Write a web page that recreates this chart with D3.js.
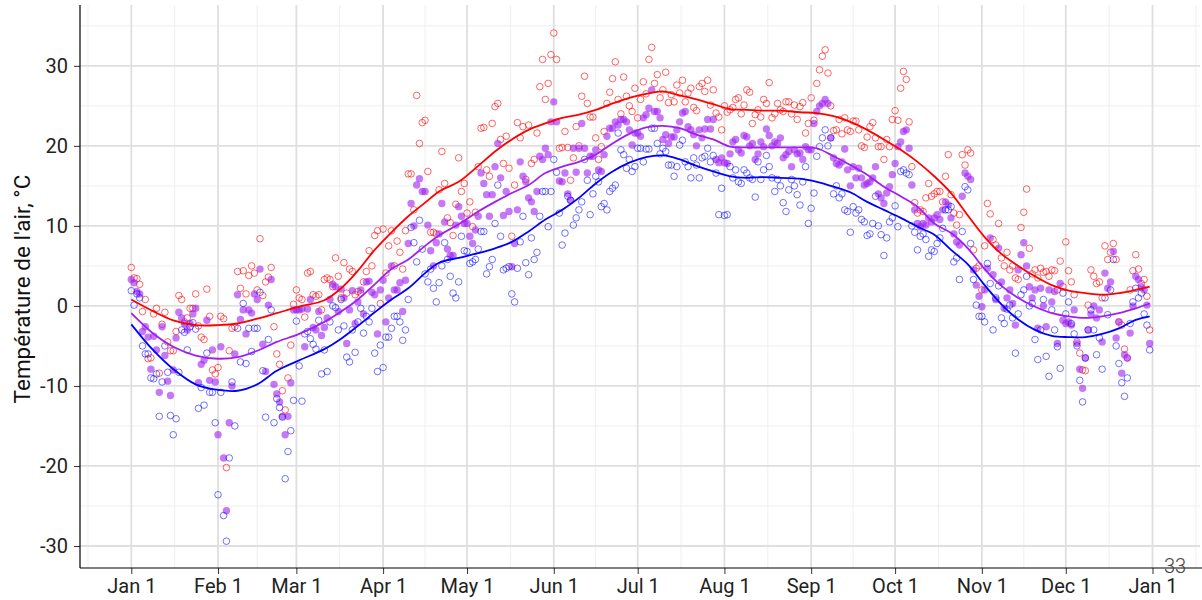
<!DOCTYPE html>
<meta charset="utf-8">
<script src="https://cdn.jsdelivr.net/npm/d3@7"></script>
<style>
body { margin: 0; background: #fff; font-family: Roboto, 'Open Sans', sans-serif; }
</style>
<svg width="1202" height="600"></svg>
<script>
// daily air temperature, one value per day of the year (rows = months)
var tmax = [
  4.8, 3.5, 3.4, 2.7, -0.7, 0.8, -6.6, -6.5, -1.0, -0.3, -8.4, -2.3, -0.8, -4.5, -5.6, -5.6, -3.2, 1.3, 0.8, -2.0, -1.5, -0.3, -0.3, 1.5, -2.5, -3.9, -4.2, 2.1, -1.3, -8.0, -8.5,
  -7.7, -1.3, -1.6, -20.2, -5.6, -2.8, -2.6, 4.3, 2.2, 4.4, 1.5, 3.8, 5.0, 4.1, 2.0, 8.4, 1.3, 3.0, 3.6, 4.8, -2.6, -6.0, -7.3, -10.6, -13.0, -9.0, -4.9, 0.2,
  2.0, 1.0, 0.8, -1.4, 4.1, 4.3, 1.4, 1.2, 1.4, -0.5, 3.3, 3.5, 3.3, 2.4, 6.0, 3.7, 1.0, 5.4, 1.6, 4.6, 4.3, 1.4, 1.8, 1.6, 3.0, 4.3, 6.9, 5.0, 8.8, 9.4, 0.3,
  9.6, 4.1, 7.5, 9.4, 5.0, 8.1, 6.7, 4.6, 9.4, 16.5, 16.5, 12.0, 26.3, 20.3, 22.9, 23.2, 16.8, 9.2, 9.2, 9.0, 14.5, 19.3, 15.3, 11.0, 10.4, 8.8, 12.7, 18.5, 14.3, 15.3,
  11.6, 13.0, 9.9, 11.7, 17.4, 22.2, 22.3, 17.0, 16.2, 22.8, 24.9, 25.3, 20.8, 17.8, 21.2, 17.2, 8.7, 15.1, 22.9, 21.0, 22.4, 15.8, 22.6, 17.8, 18.3, 21.6, 27.4, 30.8, 25.8, 27.8, 31.4,
  34.1, 30.8, 19.7, 19.8, 21.8, 19.8, 15.7, 18.5, 22.4, 20.0, 26.2, 28.7, 25.3, 23.6, 23.6, 21.0, 18.3, 19.9, 21.8, 25.3, 26.7, 28.4, 30.5, 25.8, 24.0, 28.6, 26.2, 25.0, 24.3, 27.2,
  23.5, 25.8, 28.0, 26.5, 30.8, 32.3, 27.8, 28.9, 26.0, 27.0, 29.2, 25.4, 26.4, 25.5, 27.6, 26.6, 28.2, 25.5, 26.6, 27.2, 24.8, 24.4, 27.4, 27.8, 26.8, 28.2, 25.1, 27.0, 24.1, 23.6, 22.0,
  25.0, 24.2, 24.5, 24.8, 25.8, 26.0, 24.0, 25.1, 27.0, 26.7, 22.8, 23.9, 24.5, 23.6, 25.8, 25.3, 27.9, 23.5, 24.0, 25.3, 24.5, 24.3, 25.5, 25.5, 24.0, 25.1, 23.3, 24.9, 25.4, 21.6, 22.8,
  26.0, 23.2, 27.8, 29.5, 31.2, 32.0, 29.1, 25.0, 21.9, 22.0, 23.3, 21.5, 23.5, 22.0, 21.8, 23.1, 23.1, 22.0, 20.0, 19.8, 21.1, 22.4, 22.9, 21.0, 19.9, 19.9, 18.3, 20.8, 19.9, 23.3,
  24.4, 23.2, 27.2, 29.3, 28.3, 23.0, 17.4, 12.9, 11.6, 12.0, 11.8, 13.5, 15.3, 13.7, 14.0, 14.3, 14.3, 13.0, 16.2, 18.9, 13.9, 11.6, 10.1, 11.4, 18.9, 17.6, 19.5, 19.1, 7.0, 4.7, 5.0,
  2.0, 7.5, 12.8, 11.5, 8.3, 7.6, 10.3, 6.0, 5.0, 6.7, 4.5, 5.0, 3.5, 3.3, 9.8, 11.7, 14.6, 7.2, 4.0, 4.5, 3.5, 4.7, 4.2, 4.3, 3.7, 4.5, 4.4, 2.0, 5.6, 2.4,
  8.0, 4.4, 3.0, 1.4, -4.5, -5.9, -8.0, -8.1, 0.1, 4.5, 3.7, 2.8, 3.0, 1.0, 7.5, 5.8, 6.7, 7.8, 5.8, -2.0, -2.4, -5.4, -6.5, 2.0, 4.4, 6.4, 4.6, 2.8, 3.3, 1.2, -3.0
];
var tmean = [
  3.3, 2.9, 1.8, 1.5, -3.2, -2.6, -3.9, -7.9, -3.8, -5.5, -10.8, -2.6, -6.2, -9.4, -11.2, -8.0, -4.0, -0.8, -1.5, -2.2, -3.0, -2.2, -1.0, -0.3, -9.6, -7.3, -6.8, -1.8, -9.3, -5.5, -9.5,
  -16.1, -5.1, -19.0, -25.6, -14.6, -10.0, -6.0, 1.4, -1.7, -0.5, -3.5, -0.5, -0.9, 1.5, 0.8, 4.6, -4.8, -8.2, 0.1, 3.3, -9.8, -11.0, -12.0, -13.8, -16.1, -13.8, -9.6, -0.5,
  -0.5, -0.5, -0.4, -5.1, -0.4, 0.8, -2.7, -3.0, -0.7, -3.7, -2.7, -1.5, 0.8, 2.7, 2.4, -0.7, 2.1, 1.0, -4.7, -0.5, 1.9, -2.2, 0.5, 2.0, -1.0, 3.0, 3.1, 1.7, 1.4, -3.5, 2.0,
  3.2, -2.0, 1.0, 5.0, 2.0, 2.0, 2.9, -0.7, 3.2, 7.8, 12.8, 10.0, 15.1, 15.9, 14.3, 14.3, 10.1, 6.9, 5.0, 7.9, 9.0, 12.8, 10.5, 7.1, 6.3, 6.3, 10.1, 12.4, 11.2, 10.3,
  10.3, 8.7, 7.8, 9.5, 11.2, 16.6, 15.3, 13.9, 11.2, 13.9, 17.4, 20.3, 16.0, 11.3, 14.3, 11.8, 4.9, 7.8, 12.0, 18.0, 16.2, 15.5, 13.5, 13.0, 11.8, 14.3, 18.7, 18.3, 19.7, 18.9, 23.0,
  25.5, 23.0, 15.6, 15.5, 16.6, 14.0, 13.2, 19.7, 16.7, 19.7, 22.8, 19.7, 16.6, 18.7, 18.7, 19.5, 17.0, 16.8, 18.9, 21.2, 22.2, 22.2, 23.0, 22.6, 23.3, 23.3, 23.0, 22.0, 20.1, 21.6,
  21.6, 21.2, 23.5, 23.9, 24.7, 27.0, 24.3, 24.3, 23.5, 20.8, 21.4, 20.3, 21.1, 21.1, 22.0, 23.0, 24.1, 24.3, 22.4, 22.0, 21.4, 20.0, 22.0, 21.0, 22.1, 23.3, 22.1, 23.3, 18.3, 17.9, 18.5,
  17.9, 17.8, 19.0, 20.5, 20.8, 19.5, 19.1, 21.3, 21.1, 20.0, 20.3, 18.3, 19.0, 20.5, 19.9, 22.1, 21.3, 20.0, 20.5, 20.3, 21.0, 18.5, 18.9, 19.3, 17.4, 19.5, 19.0, 19.1, 18.3, 19.9, 19.5,
  19.5, 22.8, 24.3, 25.0, 25.3, 25.8, 25.3, 21.0, 18.5, 17.8, 17.6, 18.0, 19.6, 17.0, 15.0, 17.4, 16.0, 17.2, 16.0, 15.1, 15.3, 15.5, 16.0, 17.4, 14.0, 13.5, 12.8, 14.1, 14.9, 16.4,
  17.8, 19.9, 20.5, 21.8, 22.0, 19.7, 15.1, 12.0, 10.3, 9.9, 10.3, 10.1, 11.0, 10.5, 11.0, 11.4, 10.8, 12.0, 13.0, 12.6, 11.0, 9.0, 8.0, 7.6, 13.7, 16.6, 16.2, 15.8, 4.5, 2.6, 1.2,
  -0.1, 2.0, 4.7, 8.5, 3.9, 0.8, 7.2, 3.0, -0.3, 1.0, 2.0, 0.3, -2.4, 4.5, 6.4, 7.9, 5.0, 2.4, 1.0, 2.0, -2.8, 2.2, 0.0, -2.6, 2.0, 0.5, 1.8, -4.7, 2.8, -1.8,
  -2.2, -2.0, -2.4, -0.5, -4.7, -7.9, -10.3, -6.5, -3.0, -1.0, 0.0, -1.5, -0.5, -4.5, 4.1, 2.2, 3.0, 6.8, -4.0, -2.0, -8.4, -6.1, -6.5, -3.4, 0.0, 3.7, 3.3, 2.4, 2.0, 0.1, -4.7
];
var tmin = [
  1.9, 0.1, 1.5, 1.0, -5.0, -6.0, -6.0, -9.0, -9.1, -8.5, -13.8, -9.5, -5.0, -8.3, -13.7, -16.1, -14.1, -8.3, -3.0, -3.3, -5.5, -2.6, -2.1, -2.9, -12.8, -10.2, -12.4, -5.9, -10.8, -10.8, -14.6,
  -23.6, -10.8, -26.2, -29.4, -19.0, -9.5, -15.0, -2.8, -7.0, 0.3, -7.2, -2.8, -5.7, -2.8, -2.8, 1.7, -8.1, -13.9, -4.2, -0.5, -14.6, -11.6, -12.7, -13.9, -21.6, -18.2, -15.6, -11.8,
  -1.9, -7.5, -11.9, -3.5, -3.2, -4.1, -4.8, -5.4, -1.8, -8.5, -5.5, -8.2, -2.0, 0.0, -0.2, -3.0, 0.8, -2.5, -6.4, -7.0, -3.0, -5.8, -2.0, -0.3, -3.4, -1.3, -2.0, -0.3, -5.9, -8.2, -4.9,
  -7.7, -3.9, -3.9, -2.8, -1.3, -1.3, -2.0, -4.3, -3.0, 0.8, 9.8, 7.9, 5.5, 10.7, 7.1, 4.0, 3.0, 4.6, 2.2, 0.5, 2.9, 5.0, 7.9, 5.8, 3.7, 1.6, 1.0, 3.0, 8.7, 6.9,
  6.8, 5.3, 5.5, 5.8, 7.1, 9.3, 9.3, 4.0, 4.9, 5.8, 10.3, 15.1, 8.7, 4.5, 4.7, 4.9, 1.5, 0.5, 4.7, 8.0, 11.2, 5.4, 3.9, 8.5, 5.8, 6.7, 11.2, 14.3, 14.3, 9.9, 14.3,
  18.3, 16.7, 11.6, 7.6, 9.1, 13.7, 13.2, 10.1, 11.0, 12.0, 13.0, 18.3, 15.7, 11.4, 14.0, 16.2, 15.5, 12.4, 12.8, 12.0, 14.3, 14.7, 15.1, 21.6, 19.5, 18.9, 17.2, 18.3, 16.8, 17.4,
  19.7, 19.7, 18.0, 19.6, 19.6, 22.2, 22.2, 20.3, 19.0, 19.7, 19.3, 17.6, 17.6, 16.2, 17.4, 20.1, 20.7, 18.0, 17.4, 16.0, 18.5, 17.6, 16.0, 18.5, 18.7, 19.7, 18.0, 18.8, 16.6, 11.4, 14.7,
  11.3, 11.4, 17.4, 16.0, 17.0, 15.5, 15.3, 17.0, 16.6, 16.0, 15.8, 13.6, 18.0, 15.8, 17.0, 18.8, 17.4, 16.0, 14.3, 15.8, 15.0, 12.9, 11.8, 14.5, 15.8, 15.0, 13.9, 12.6, 15.5, 17.4, 10.3,
  12.2, 14.1, 18.7, 19.9, 21.0, 22.0, 20.0, 21.0, 14.0, 15.0, 13.5, 14.0, 12.0, 11.8, 9.2, 12.4, 11.6, 12.0, 10.8, 10.5, 8.8, 9.0, 10.3, 13.7, 10.0, 8.9, 6.3, 8.5, 10.5, 11.0,
  12.5, 9.9, 16.8, 17.0, 16.6, 16.4, 10.0, 9.2, 7.0, 8.7, 9.0, 8.3, 6.2, 7.0, 6.8, 7.8, 8.5, 9.7, 12.0, 12.0, 12.4, 5.5, 6.0, 3.3, 9.3, 14.9, 14.5, 7.8, 3.3, 0.1, -1.3,
  -1.3, -2.0, 5.3, 2.8, -3.0, 1.0, 2.5, -1.5, -2.2, -0.4, 0.1, -1.5, -5.9, -1.0, 1.4, 2.0, 3.7, 0.0, 0.3, -4.2, -6.7, -3.0, 0.8, -6.3, -8.8, -0.5, -3.0, -5.1, -7.8, 1.6,
  -1.0, 0.5, -2.2, -3.5, -5.0, -9.3, -12.0, -6.5, -3.0, -0.5, -3.0, -6.1, -4.0, -7.9, 1.0, -1.1, 2.0, 5.8, -5.0, -7.2, -9.6, -11.3, -9.0, -2.2, 0.5, 2.2, 1.0, 1.6, -1.0, -2.4, -5.5
];

// smoothed curves at these days of the year
var smoothDays = [0, 8, 15, 23, 31, 38, 45, 52, 60, 69, 75, 81, 87, 93, 99, 105, 110, 117, 124, 130, 136, 142, 148, 154, 160, 166, 172, 178, 184, 190, 196, 202, 208, 214, 220, 226, 232, 239, 245, 251, 257, 263, 269, 275, 281, 287, 293, 299, 305, 311, 317, 323, 329, 335, 341, 347, 353, 359, 364];
var smoothMax = [0.8, -0.7, -1.8, -2.4, -2.4, -2.2, -1.6, -0.9, -0.1, 0.7, 2.2, 4.4, 7.0, 9.2, 11.2, 12.9, 14.3, 15.5, 17.5, 19.3, 20.8, 22.0, 22.8, 23.5, 23.9, 24.5, 25.3, 26.0, 26.5, 26.8, 26.3, 25.8, 25.2, 24.6, 24.5, 24.4, 24.4, 24.2, 24.1, 23.7, 23.0, 22.0, 20.8, 19.5, 18.0, 16.2, 14.1, 11.3, 8.6, 6.5, 5.0, 3.7, 2.6, 1.9, 1.6, 1.4, 1.6, 2.0, 2.4];
var smoothMean = [-0.9, -3.5, -5.1, -6.2, -6.6, -6.4, -5.6, -4.5, -3.5, -2.0, -0.7, 0.8, 2.7, 4.6, 5.8, 7.5, 8.8, 10.2, 11.8, 13.0, 14.1, 15.1, 16.6, 17.4, 18.0, 18.9, 20.3, 21.5, 22.3, 22.5, 22.2, 21.4, 20.8, 19.9, 19.8, 19.8, 19.8, 19.8, 19.7, 18.7, 17.6, 16.4, 14.9, 13.7, 12.4, 10.3, 9.1, 7.2, 4.6, 2.5, 1.0, -0.1, -0.9, -1.3, -1.5, -1.3, -0.9, -0.3, 0.3];
var smoothMin = [-2.3, -5.6, -7.9, -9.8, -10.5, -10.6, -9.8, -8.1, -6.8, -5.4, -4.1, -2.5, -0.8, 0.8, 2.2, 4.1, 5.4, 6.0, 6.6, 7.2, 8.0, 9.3, 10.8, 12.0, 13.5, 15.3, 16.8, 17.9, 18.6, 18.8, 18.3, 17.5, 16.8, 16.2, 16.0, 16.1, 16.0, 15.9, 15.5, 14.9, 14.2, 13.0, 12.0, 11.0, 9.9, 8.9, 7.0, 5.2, 2.6, 0.2, -1.7, -3.0, -3.75, -3.9, -3.9, -3.5, -2.8, -1.75, -1.3];

var yTicks = [-30, -20, -10, 0, 10, 20, 30];
var yMinor = [-25, -15, -5, 5, 15, 25, 35];

var svg = d3.select("svg"),
    pLeft = 80, pRight = 1200, pTop = 5, pBottom = 568;

var start = new Date(2019, 0, 1);
function day(i) { return d3.timeDay.offset(start, i); }

var x = d3.scaleTime()
    .domain([start, new Date(2020, 0, 1)])
    .range([131.3, 1152.5]);
var y = d3.scaleLinear()
    .domain([-32.75, 37.6])
    .range([pBottom, pTop]);

var months = d3.timeMonth.range(start, new Date(2020, 0, 2));
var xMinor = [];
for (var i = -1; i < months.length; i++) {
  var a = i < 0 ? d3.timeMonth.offset(months[0], -1) : months[i];
  var b = i + 1 < months.length ? months[i + 1] : d3.timeMonth.offset(months[i], 1);
  xMinor.push(new Date((+a + +b) / 2));
}

svg.append("clipPath").attr("id", "panel")
  .append("rect").attr("x", pLeft).attr("y", pTop)
  .attr("width", pRight - pLeft).attr("height", pBottom - pTop);

var grid = svg.append("g").attr("clip-path", "url(#panel)");

// minor grid
grid.selectAll(".ym").data(yMinor).enter().append("line")
  .attr("x1", pLeft).attr("x2", pRight)
  .attr("y1", function(d) { return y(d); }).attr("y2", function(d) { return y(d); })
  .attr("stroke", "#efefef").attr("stroke-width", 1);
grid.selectAll(".xm").data(xMinor).enter().append("line")
  .attr("y1", pTop).attr("y2", pBottom)
  .attr("x1", function(d) { return x(d); }).attr("x2", function(d) { return x(d); })
  .attr("stroke", "#efefef").attr("stroke-width", 1);

// major grid
grid.selectAll(".yM").data(yTicks).enter().append("line")
  .attr("x1", pLeft).attr("x2", pRight)
  .attr("y1", function(d) { return y(d); }).attr("y2", function(d) { return y(d); })
  .attr("stroke", "#dfdfdf").attr("stroke-width", 1.8);
grid.selectAll(".xM").data(months).enter().append("line")
  .attr("y1", pTop).attr("y2", pBottom)
  .attr("x1", function(d) { return x(d); }).attr("x2", function(d) { return x(d); })
  .attr("stroke", "#dfdfdf").attr("stroke-width", 1.8);

var plot = svg.append("g").attr("clip-path", "url(#panel)");

// points
plot.append("g").selectAll("circle").data(tmax).enter().append("circle")
  .attr("cx", function(d, i) { return x(day(i)); })
  .attr("cy", function(d) { return y(d); })
  .attr("r", 3.3)
  .attr("fill", "none").attr("stroke", "#ff0000").attr("stroke-opacity", 0.6).attr("stroke-width", 1);

plot.append("g").selectAll("circle").data(tmean).enter().append("circle")
  .attr("cx", function(d, i) { return x(day(i)); })
  .attr("cy", function(d) { return y(d); })
  .attr("r", 3.7)
  .attr("fill", "#a020f0").attr("fill-opacity", 0.6);

plot.append("g").selectAll("circle").data(tmin).enter().append("circle")
  .attr("cx", function(d, i) { return x(day(i)); })
  .attr("cy", function(d) { return y(d); })
  .attr("r", 3.3)
  .attr("fill", "none").attr("stroke", "#0000ff").attr("stroke-opacity", 0.55).attr("stroke-width", 1);

// smoothed lines
var curves = [
  { vals: smoothMax, color: "#ff0000" },
  { vals: smoothMean, color: "#a020f0" },
  { vals: smoothMin, color: "#0000ff" }
];
var line = d3.line()
  .x(function(d, i) { return x(day(smoothDays[i])); })
  .y(function(d) { return y(d); })
  .curve(d3.curveCatmullRom.alpha(0.5));

plot.selectAll(".smooth").data(curves).enter().append("path")
  .attr("d", function(c) { return line(c.vals); })
  .attr("fill", "none")
  .attr("stroke", function(c) { return c.color; })
  .attr("stroke-width", 1.8);

// axes
var yAxis = svg.append("g")
  .attr("transform", "translate(" + pLeft + ",0)")
  .call(d3.axisLeft(y).tickValues(yTicks).tickSize(6).tickPadding(6).tickFormat(d3.format("d")));
var xAxis = svg.append("g")
  .attr("transform", "translate(0," + pBottom + ")")
  .call(d3.axisBottom(x).tickValues(months).tickSize(6).tickPadding(5).tickFormat(d3.timeFormat("%b %-d")));

[yAxis, xAxis].forEach(function(g) {
  g.select(".domain").remove();
  g.selectAll(".tick line").attr("stroke", "#333");
  g.selectAll("text").attr("font-family", "Roboto, sans-serif").attr("font-size", 20).attr("fill", "#222");
});
yAxis.selectAll("text").text(function(d) { return d < 0 ? "-" + Math.abs(d) : d; });

svg.append("line").attr("x1", pLeft).attr("x2", pLeft).attr("y1", pTop).attr("y2", pBottom)
  .attr("stroke", "#000").attr("stroke-width", 1.2);
svg.append("line").attr("x1", pLeft).attr("x2", 1202).attr("y1", pBottom).attr("y2", pBottom)
  .attr("stroke", "#000").attr("stroke-width", 1.2);

svg.append("text")
  .attr("transform", "translate(30,289) rotate(-90)")
  .attr("text-anchor", "middle")
  .attr("font-family", "Roboto, sans-serif")
  .attr("font-size", 22.5)
  .attr("fill", "#111")
  .text("Température de l'air, °C");

// page number
svg.append("text")
  .attr("x", 1164).attr("y", 573)
  .attr("font-family", "Roboto, sans-serif")
  .attr("font-size", 20)
  .attr("font-weight", 300)
  .attr("fill", "#444")
  .text("33");
</script>
